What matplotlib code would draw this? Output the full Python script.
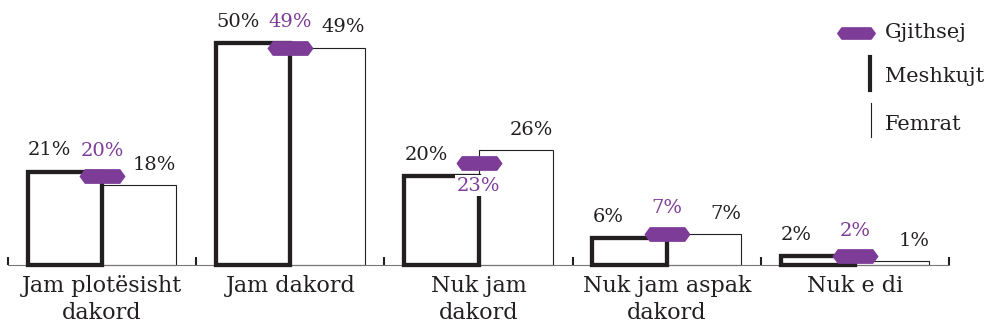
import numpy as np
import matplotlib.pyplot as plt
from matplotlib.path import Path

plt.rcParams['font.family'] = 'DejaVu Serif'

categories = ["Jam plotësisht\ndakord", "Jam dakord", "Nuk jam\ndakord",
              "Nuk jam aspak\ndakord", "Nuk e di"]
meshkujt = [21, 50, 20, 6, 2]
femrat = [18, 49, 26, 7, 1]
gjithsej = [20, 49, 23, 7, 2]

purple = "#7d3c98"
dark = "#231f20"

# elongated hexagon used for the overall value
hexa = Path([(-1, 0), (-0.78, 0.3), (0.78, 0.3), (1, 0), (0.78, -0.3),
             (-0.78, -0.3), (-1, 0)], closed=True)

fig = plt.figure(figsize=(9.92, 3.33), dpi=100)
ax = fig.add_axes([0, 0, 1, 1])
ax.set_xlim(-0.0425, 5.228)
ax.set_ylim(-15.3, 59.7)

x = np.arange(len(categories))
mid = x + 0.5
w = 0.395

ax.bar(mid, femrat, width=w, align='edge', facecolor='white',
       edgecolor=dark, linewidth=0.8, zorder=2)
ax.bar(mid - w, meshkujt, width=w, align='edge', facecolor='none',
       edgecolor=dark, linewidth=3.1, zorder=3)

for i in range(len(categories)):
    ax.annotate(f"{meshkujt[i]}%", (mid[i] - w, meshkujt[i]),
                xytext=(0, 9), textcoords='offset points',
                ha='left', va='bottom', fontsize=14, color=dark)
    ax.annotate(f"{femrat[i]}%", (mid[i] + w, femrat[i]),
                xytext=(0, 8), textcoords='offset points',
                ha='right', va='bottom', fontsize=14, color=dark)
    ax.plot(mid[i], gjithsej[i], marker=hexa, markersize=32, color=purple,
            linestyle='none', zorder=5)
    if gjithsej[i] < femrat[i] and gjithsej[i] > meshkujt[i]:
        ax.annotate(f"{gjithsej[i]}%", (mid[i], gjithsej[i]),
                    xytext=(0, -10), textcoords='offset points',
                    ha='center', va='top', fontsize=14, color=purple,
                    bbox=dict(facecolor='white', edgecolor='none', pad=1),
                    zorder=4)
    else:
        ax.annotate(f"{gjithsej[i]}%", (mid[i], gjithsej[i]),
                    xytext=(0, 12), textcoords='offset points',
                    ha='center', va='bottom', fontsize=14, color=purple,
                    zorder=6)

# baseline with upward ticks between groups
for s in ['top', 'left', 'right']:
    ax.spines[s].set_visible(False)
ax.spines['bottom'].set_position(('data', 0))
ax.spines['bottom'].set_bounds(0, 5)
ax.spines['bottom'].set_color('#777777')
ax.spines['bottom'].set_linewidth(0.8)
ax.set_yticks([])
ax.set_xticks(np.arange(6))
ax.set_xticklabels([])
ax.tick_params(axis='x', which='major', direction='in', length=6,
               width=1.5, color=dark)
ax.set_xticks(mid, minor=True)
ax.set_xticklabels(categories, minor=True, fontsize=16, color=dark,
                   linespacing=1.3)
ax.tick_params(axis='x', which='minor', length=0, pad=7)

# legend
def fx(px):
    return px / 992


def fy(py):
    return 1 - py / 333


fig.lines.append(plt.Line2D([fx(856)], [fy(33)], marker=hexa, markersize=27,
                            color=purple, linestyle='none',
                            transform=fig.transFigure))
fig.lines.append(plt.Line2D([fx(870), fx(870)], [fy(57), fy(90)],
                            linewidth=3, color=dark,
                            transform=fig.transFigure))
fig.lines.append(plt.Line2D([fx(871), fx(871)], [fy(103), fy(137)],
                            linewidth=0.8, color=dark,
                            transform=fig.transFigure))
for label, py in [("Gjithsej", 33), ("Meshkujt", 76), ("Femrat", 125)]:
    fig.text(fx(885), fy(py), label, fontsize=15, color=dark,
             ha='left', va='center')

fig.savefig("out.png", dpi=100)
